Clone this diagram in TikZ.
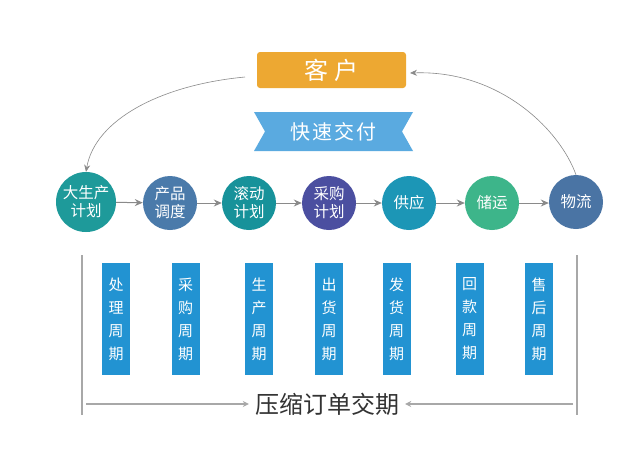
\documentclass[tikz,border=0pt]{standalone}
\usepackage{fontspec}
\setmainfont{Noto Sans CJK SC}
\usetikzlibrary{arrows.meta}
\definecolor{cOrange}{HTML}{EDA832}
\definecolor{cRibbon}{HTML}{5AAAE0}
\definecolor{cBar}{HTML}{2293D2}
\definecolor{cA}{HTML}{1E9A9A}
\definecolor{cB}{HTML}{4A7AAA}
\definecolor{cC}{HTML}{17929A}
\definecolor{cD}{HTML}{4B4FA0}
\definecolor{cE}{HTML}{1C96B6}
\definecolor{cF}{HTML}{3DB58A}
\definecolor{cG}{HTML}{4A74A4}
\definecolor{cLine}{HTML}{A8A8A8}
\definecolor{cArrow}{HTML}{8A8A8A}
\definecolor{cText}{HTML}{333333}
\tikzset{
  circ/.style={circle, minimum size=54pt, inner sep=0pt, text=white, font=\fontsize{15.5}{18}\selectfont, align=center},
  bar/.style={fill=cBar, minimum width=28pt, minimum height=112pt, inner sep=0pt, text=white, font=\fontsize{15}{23}\selectfont, align=center},
  flow/.style={draw=cArrow, line width=1pt, -{Stealth[length=8pt,width=7pt]}},
  curve/.style={draw=cArrow, line width=0.6pt, -{Stealth[length=7pt,width=6pt]}},
  vline/.style={draw=cLine, line width=1.2pt},
}
\begin{document}
\begin{tikzpicture}[x=1pt,y=-1pt]
\useasboundingbox (0,0) rectangle (644,451);
\fill[white] (0,0) rectangle (644,451);
% customer box
\node[fill=cOrange, rounded corners=3pt, minimum width=149pt, minimum height=36pt, inner sep=0pt, text=white, font=\fontsize{24}{26}\selectfont] (kh) at (331.5,70) {客\hspace{6pt}户};
% ribbon
\fill[cRibbon] (254,112) -- (413,112) -- (402,131.5) -- (413,151) -- (254,151) -- (265,131.5) -- cycle;
\node[text=white, font=\fontsize{20}{22}\selectfont, inner sep=0pt] (ks) at (333.5,131.5) {快\hspace{2pt}速\hspace{2pt}交\hspace{2pt}付};
% circles
\node[circ, fill=cA, minimum size=60pt] (c1) at (86,202) {大生产\\计划};
\node[circ, fill=cB] (c2) at (170,203) {产品\\调度};
\node[circ, fill=cC] (c3) at (249,203) {滚动\\计划};
\node[circ, fill=cD] (c4) at (329,203) {采购\\计划};
\node[circ, fill=cE] (c5) at (409,203) {供应};
\node[circ, fill=cF] (c6) at (492,203) {储运};
\node[circ, fill=cG] (c7) at (576,202) {物流};
\draw[flow] (c1) -- (c2);
\draw[flow] (c2) -- (c3);
\draw[flow] (c3) -- (c4);
\draw[flow] (c4) -- (c5);
\draw[flow] (c5) -- (c6);
\draw[flow] (c6.east) -- (c6.east -| c7.west);
% curved arrows
\coordinate (kl) at (245,77);
\coordinate (kr) at (410,73);
\draw[curve] (kl) .. controls (160,85) and (95,120) .. (c1.north);
\draw[curve] (c7.north) .. controls (560,130) and (500,70) .. (kr);
% bars
\node[bar] (b1) at (116,319) {处\\理\\周\\期};
\node[bar] (b2) at (185.5,319) {采\\购\\周\\期};
\node[bar] (b3) at (259,319) {生\\产\\周\\期};
\node[bar] (b4) at (329,319) {出\\货\\周\\期};
\node[bar] (b5) at (396.5,319) {发\\货\\周\\期};
\node[bar] (b6) at (469.5,319) {回\\款\\周\\期};
\node[bar] (b7) at (539,319) {售\\后\\周\\期};
% side lines
\coordinate (l1) at (82,255);
\coordinate (l2) at (82,415);
\coordinate (r1) at (577,255);
\coordinate (r2) at (577,415);
\draw[vline] (l1) -- (l2);
\draw[vline] (r1) -- (r2);
% bottom label & arrows
\node[text=cText, font=\fontsize{24}{26}\selectfont, inner sep=0pt] (ys) at (327,404) {压缩订单交期};
\coordinate (al) at (86,404);
\coordinate (ar) at (573,404);
\draw[draw=cLine, line width=1.2pt, -{Stealth[length=6pt,width=6pt]}] (al) -- ([xshift=-6pt]ys.west);
\draw[draw=cLine, line width=1.2pt, -{Stealth[length=6pt,width=6pt]}] (ar) -- ([xshift=6pt]ys.east);
\end{tikzpicture}
\end{document}
